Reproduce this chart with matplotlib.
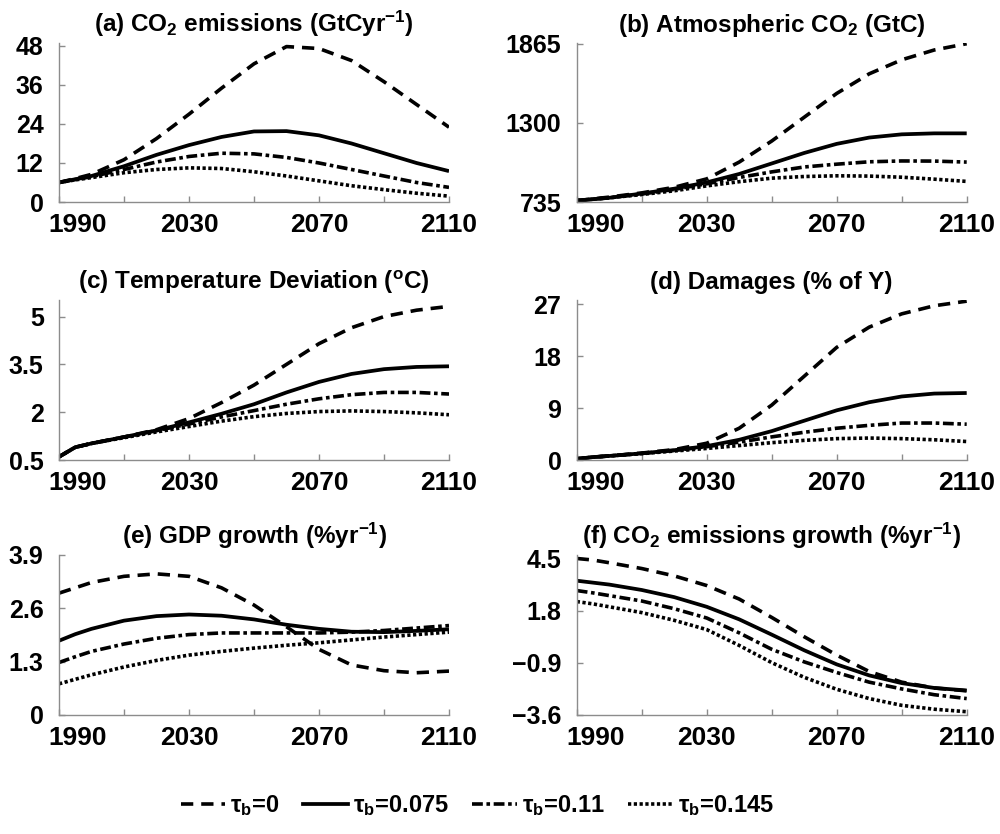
import matplotlib
matplotlib.use("Agg")
import matplotlib.pyplot as plt
import matplotlib.transforms as mtransforms

plt.rcParams['font.family'] = ['Liberation Sans', 'DejaVu Sans']
plt.rcParams['font.weight'] = 'bold'
plt.rcParams['mathtext.fontset'] = 'custom'
plt.rcParams['mathtext.rm'] = 'Liberation Sans:bold'
plt.rcParams['mathtext.bf'] = 'Liberation Sans:bold'
plt.rcParams['mathtext.it'] = 'Liberation Sans:bold'

years = [1990, 1995, 2000, 2010, 2020, 2030, 2040, 2050, 2060, 2070, 2080, 2090, 2100, 2110]
series_labels = ['τ$_\\mathbf{b}$=0', 'τ$_\\mathbf{b}$=0.075', 'τ$_\\mathbf{b}$=0.11', 'τ$_\\mathbf{b}$=0.145']

# (a) CO2 emissions (GtC/yr)
emis_0     = [6, 7.2, 8.5, 13, 19.5, 27, 35, 42.5, 47.8, 47.2, 43.5, 37, 30, 23]
emis_075   = [6, 7, 8, 11, 14.5, 17.5, 20, 21.7, 21.8, 20.5, 18, 15, 12, 9.5]
emis_011   = [6, 6.9, 7.8, 10, 12.3, 14, 15, 14.8, 13.7, 12, 10, 8, 6, 4.5]
emis_0145  = [6, 6.8, 7.5, 9, 10, 10.5, 10.3, 9.3, 8, 6.5, 5, 3.8, 2.7, 1.8]

# (b) Atmospheric CO2 (GtC)
atm_0      = [745, 757, 770, 800, 840, 900, 1020, 1170, 1340, 1510, 1650, 1750, 1820, 1865]
atm_075    = [745, 755, 765, 795, 830, 875, 935, 1010, 1085, 1150, 1195, 1218, 1225, 1225]
atm_011    = [745, 755, 765, 792, 825, 865, 910, 950, 985, 1005, 1022, 1028, 1027, 1020]
atm_0145   = [745, 755, 765, 788, 815, 850, 880, 905, 917, 922, 920, 912, 898, 882]

# (c) Temperature deviation (C)
temp_0     = [0.6, 0.9, 1.02, 1.22, 1.45, 1.8, 2.3, 2.85, 3.5, 4.15, 4.65, 5.0, 5.2, 5.32]
temp_075   = [0.6, 0.9, 1.02, 1.22, 1.43, 1.68, 1.95, 2.25, 2.62, 2.95, 3.2, 3.35, 3.42, 3.44]
temp_011   = [0.6, 0.9, 1.02, 1.22, 1.42, 1.63, 1.85, 2.05, 2.25, 2.42, 2.55, 2.62, 2.62, 2.57]
temp_0145  = [0.6, 0.9, 1.02, 1.2, 1.38, 1.55, 1.72, 1.86, 1.96, 2.02, 2.04, 2.02, 1.98, 1.92]

# (d) Damages (% of Y)
dam_0      = [0.2, 0.5, 0.7, 1.2, 1.8, 2.9, 5.5, 9.5, 14.5, 19.5, 23, 25.3, 26.7, 27.5]
dam_075    = [0.2, 0.5, 0.7, 1.15, 1.7, 2.4, 3.5, 5.0, 6.8, 8.6, 10.0, 11.0, 11.5, 11.6]
dam_011    = [0.2, 0.5, 0.7, 1.15, 1.65, 2.3, 3.1, 4.0, 4.8, 5.5, 6.0, 6.4, 6.4, 6.2]
dam_0145   = [0.2, 0.5, 0.7, 1.1, 1.55, 2.0, 2.5, 3.0, 3.4, 3.7, 3.8, 3.7, 3.5, 3.2]

# (e) GDP growth (%/yr)
gdp_0      = [2.97, 3.1, 3.23, 3.38, 3.44, 3.38, 3.1, 2.68, 2.15, 1.6, 1.22, 1.08, 1.03, 1.07]
gdp_075    = [1.81, 1.97, 2.1, 2.3, 2.41, 2.45, 2.42, 2.33, 2.2, 2.1, 2.03, 2.02, 2.05, 2.09]
gdp_011    = [1.28, 1.42, 1.55, 1.73, 1.87, 1.96, 2.0, 2.0, 2.0, 2.0, 2.02, 2.06, 2.12, 2.18]
gdp_0145   = [0.76, 0.87, 0.98, 1.17, 1.33, 1.46, 1.55, 1.63, 1.7, 1.76, 1.83, 1.9, 1.96, 2.02]

# (f) CO2 emissions growth (%/yr)
eg_0       = [4.5, 4.42, 4.28, 3.98, 3.6, 3.1, 2.4, 1.45, 0.45, -0.5, -1.35, -1.9, -2.2, -2.35]
eg_075     = [3.35, 3.25, 3.15, 2.87, 2.5, 2.0, 1.35, 0.56, -0.25, -0.98, -1.55, -1.95, -2.2, -2.33]
eg_011     = [2.84, 2.72, 2.58, 2.3, 1.9, 1.42, 0.65, -0.2, -0.85, -1.4, -1.9, -2.25, -2.55, -2.75]
eg_0145    = [2.27, 2.15, 2.0, 1.7, 1.3, 0.82, 0.0, -0.89, -1.65, -2.27, -2.75, -3.1, -3.3, -3.43]

xticks = [1990, 2010, 2030, 2050, 2070, 2090, 2110]
xticklabels = ['1990', '', '2030', '', '2070', '', '2110']

panels = [
    ('(a) CO$_\\mathbf{2}$ emissions (GtCyr$^\\mathbf{-1}$)', [emis_0, emis_075, emis_011, emis_0145],
     [0, 12, 24, 36, 48], ['0', '12', '24', '36', '48'], (0, 48.9)),
    ('(b) Atmospheric CO$_\\mathbf{2}$ (GtC)', [atm_0, atm_075, atm_011, atm_0145],
     [735, 1300, 1865], ['735', '1300', '1865'], (735, 1870)),
    ('(c) Temperature Deviation ($^\\mathbf{o}$C)', [temp_0, temp_075, temp_011, temp_0145],
     [0.5, 2, 3.5, 5], ['0.5', '2', '3.5', '5'], (0.5, 5.52)),
    ('(d) Damages (% of Y)', [dam_0, dam_075, dam_011, dam_0145],
     [0, 9, 18, 27], ['0', '9', '18', '27'], (0, 27.7)),
    ('(e) GDP growth (%yr$^\\mathbf{-1}$)', [gdp_0, gdp_075, gdp_011, gdp_0145],
     [0, 1.3, 2.6, 3.9], ['0', '1.3', '2.6', '3.9'], (0, 3.9)),
    ('(f) CO$_\\mathbf{2}$ emissions growth (%yr$^\\mathbf{-1}$)', [eg_0, eg_075, eg_011, eg_0145],
     [-3.6, -0.9, 1.8, 4.5], ['\u22123.6', '\u22120.9', '1.8', '4.5'], (-3.6, 4.68)),
]

styles = [
    dict(linestyle=(0, (3.4, 2.2)), linewidth=2.6),
    dict(linestyle='-', linewidth=2.7),
    dict(linestyle=(0, (3.0, 1.0, 1.0, 1.0)), linewidth=2.6),
    dict(linestyle=(0, (0.9, 0.7)), linewidth=2.6),
]

fig = plt.figure(figsize=(10, 8.34), dpi=100)
H = 834.0
lefts = [59, 576.7]
width = 390
rows = [(202, 43), (460, 300), (715, 555)]

for i, (title, data, yt, ytl, ylim) in enumerate(panels):
    r, c = divmod(i, 2)
    b, t = rows[r]
    ax = fig.add_axes([lefts[c] / 1000, 1 - b / H, width / 1000, (b - t) / H])
    for s, st in zip(data, styles):
        ax.plot(years, s, color='black', solid_capstyle='butt', dash_capstyle='butt', **st)
    ax.set_xlim(1990, 2110)
    ax.set_ylim(*ylim)
    ax.set_xticks(xticks)
    ax.set_xticklabels(xticklabels)
    ax.set_yticks(yt)
    ax.set_yticklabels(ytl)
    for sp in ['top', 'right']:
        ax.spines[sp].set_visible(False)
    for sp in ['left', 'bottom']:
        ax.spines[sp].set_color('#8c8c8c')
        ax.spines[sp].set_linewidth(1.0)
    ax.tick_params(axis='x', direction='in', length=4, width=1, color='#8c8c8c',
                   labelsize=19, pad=8)
    ax.tick_params(axis='y', direction='in', length=4, width=1, color='#8c8c8c',
                   labelsize=18, pad=11)
    for lab in ax.get_xticklabels() + ax.get_yticklabels():
        lab.set_fontweight('bold')
    first = ax.get_xticklabels()[0]
    first.set_transform(first.get_transform() +
                        mtransforms.ScaledTranslation(19 / 100, 0, fig.dpi_scale_trans))
    ax.set_title(title, fontsize=17.5, fontweight='bold', pad=8)

handles = [plt.Line2D([], [], color='black', **st) for st in styles]
fig.legend(handles, series_labels, loc='center', bbox_to_anchor=(0.477, 1 - 806 / H),
           ncol=4, frameon=False, handlelength=1.9, handletextpad=0.2,
           columnspacing=1.0, prop={'weight': 'bold', 'size': 17})

fig.savefig('out.png', dpi=100)
